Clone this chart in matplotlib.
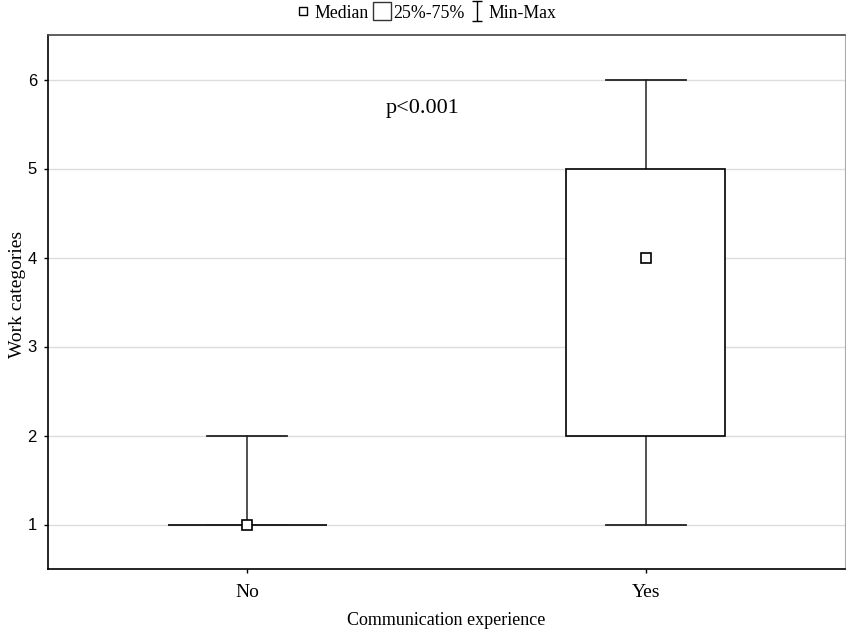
import matplotlib.pyplot as plt
from matplotlib.lines import Line2D
from matplotlib.patches import Rectangle
from matplotlib.path import Path

# data
groups = ['No', 'Yes']
mins = [1, 1]
q1s = [1, 2]
medians = [1, 4]
q3s = [1, 5]
maxs = [2, 6]
p_text = 'p<0.001'

serif = 'Liberation Serif'
sans = 'Liberation Sans'

fig = plt.figure(figsize=(8.46, 6.29), dpi=100)
ax = fig.add_axes([48 / 846, 60 / 629, 797 / 846, 534 / 629])

box_hw = 0.2
cap_hw = 0.1
for i, g in enumerate(groups):
    # whiskers
    ax.plot([i, i], [mins[i], q1s[i]], color='#333333', lw=1.2, zorder=2)
    ax.plot([i, i], [q3s[i], maxs[i]], color='#333333', lw=1.2, zorder=2)
    ax.plot([i - cap_hw, i + cap_hw], [mins[i], mins[i]], color='#222222', lw=1.3, zorder=3)
    ax.plot([i - cap_hw, i + cap_hw], [maxs[i], maxs[i]], color='#222222', lw=1.3, zorder=3)
    # box
    ax.add_patch(Rectangle((i - box_hw, q1s[i]), 2 * box_hw, q3s[i] - q1s[i],
                           facecolor='white', edgecolor='black', lw=1.2, zorder=2))
    # median
    ax.plot(i, medians[i], marker='s', ms=7, mfc='white', mec='black', mew=1.2, ls='none', zorder=4)

ax.set_xlim(-0.5, 1.5)
ax.set_ylim(0.5, 6.5)
ax.set_xticks(range(len(groups)))
ax.set_xticklabels(groups, family=serif, fontsize=14)
ax.set_yticks(range(1, 7))
for lab in ax.get_yticklabels():
    lab.set_family(sans)
    lab.set_fontsize(12)
ax.yaxis.grid(True, color='#dddddd', lw=1, zorder=0)
ax.set_axisbelow(True)
ax.tick_params(axis='both', direction='out', length=3, width=1)
ax.tick_params(axis='x', pad=8)
ax.tick_params(axis='y', pad=5, right=True)

for side in ['left', 'bottom', 'top']:
    ax.spines[side].set_linewidth(1.2)
ax.spines['top'].set_color('#444444')
ax.spines['right'].set_color('#aaaaaa')
ax.spines['right'].set_linewidth(0.8)

ax.set_xlabel('Communication experience', family=serif, fontsize=13, labelpad=8)
ax.set_ylabel('Work categories', family=serif, fontsize=14)
ax.yaxis.set_label_coords(-0.027, 0.514)

ax.text(0.44, 5.67, p_text, family=serif, fontsize=16, ha='center', va='center')

# legend above the plot
ibeam = Path([(-0.5, -1), (0.5, -1), (0, -1), (0, 1), (-0.5, 1), (0.5, 1)],
             [Path.MOVETO, Path.LINETO, Path.MOVETO, Path.LINETO, Path.MOVETO, Path.LINETO])
handles = [
    Line2D([], [], marker='s', ms=6, mfc='white', mec='black', ls='none'),
    Line2D([], [], marker='s', ms=13, mfc='white', mec='#333333', ls='none'),
    Line2D([], [], marker=ibeam, ms=14, mfc='none', mec='black', mew=1, ls='none'),
]
fig.legend(handles, ['Median', '25%-75%', 'Min-Max'], loc='center', bbox_to_anchor=(0.504, 1 - 13 / 629),
           ncol=3, frameon=False, prop={'family': serif, 'size': 12.8},
           handlelength=0.8, handletextpad=0.25, columnspacing=0.3)

plt.savefig('out.png', dpi=100)
